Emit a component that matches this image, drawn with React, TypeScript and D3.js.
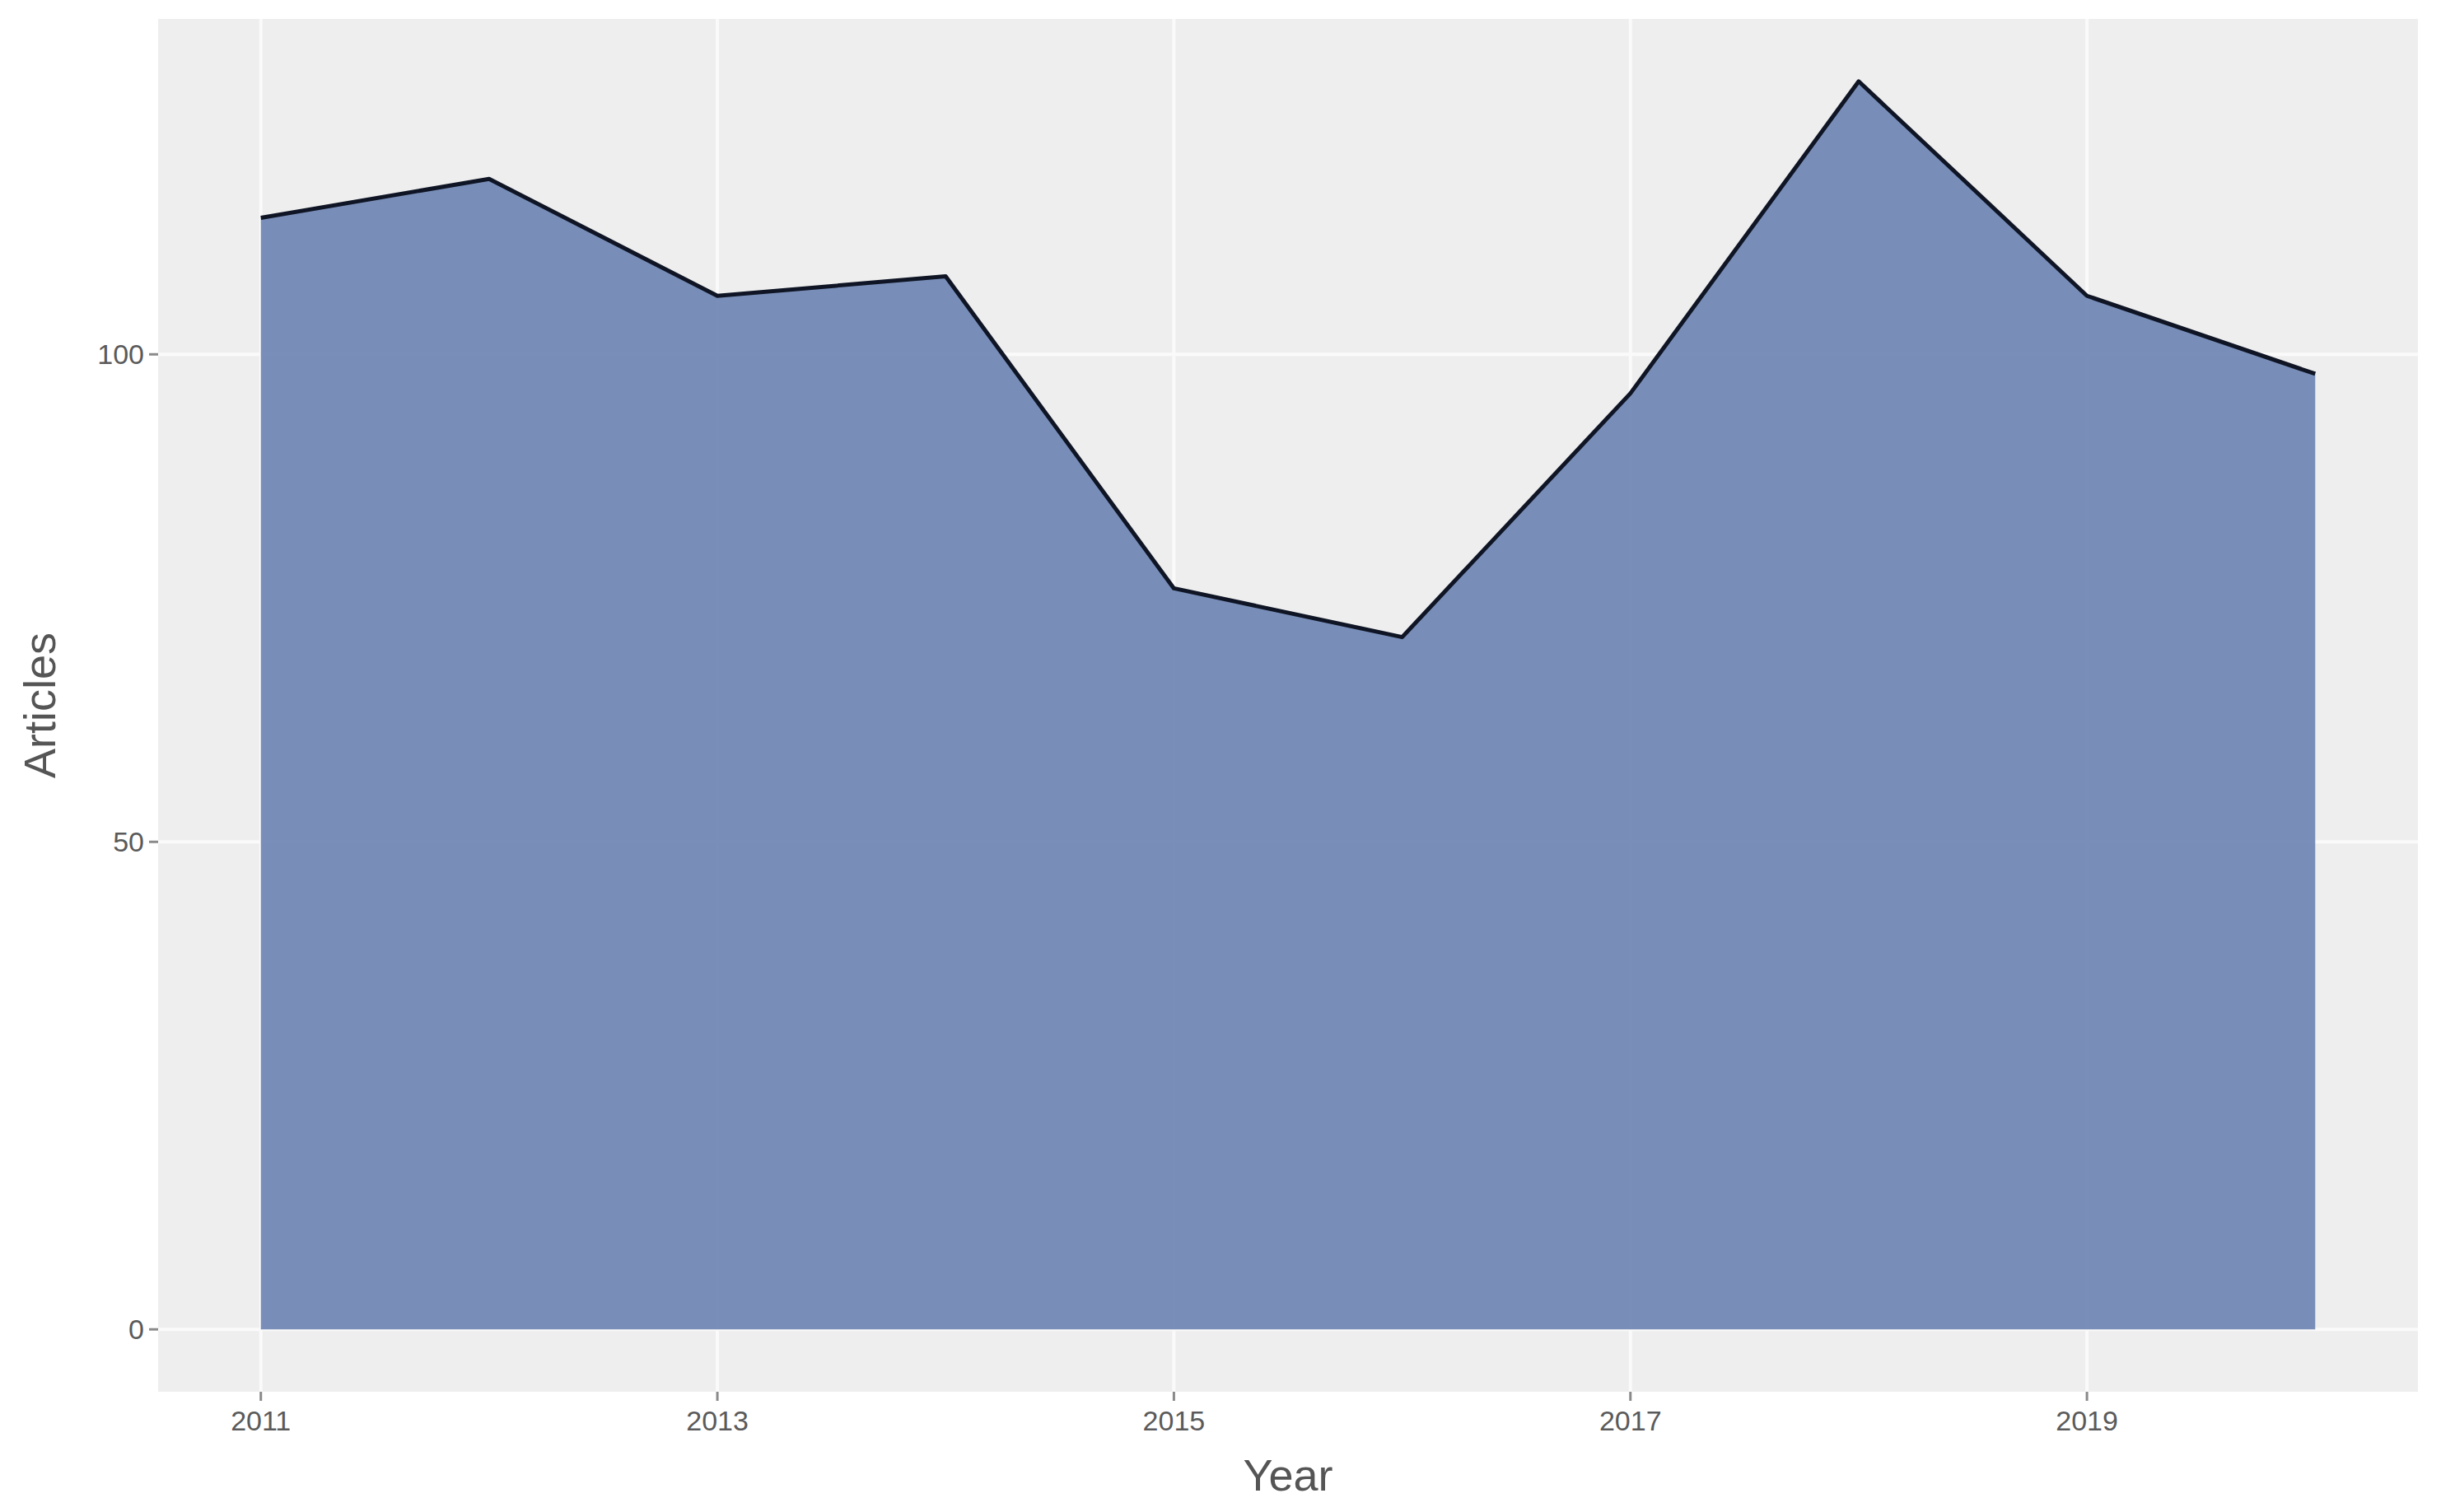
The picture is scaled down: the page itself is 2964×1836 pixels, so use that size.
import React from "react";
import * as d3 from "d3";

const years: number[] = [2011, 2012, 2013, 2014, 2015, 2016, 2017, 2018, 2019, 2020];
const articles: number[] = [114, 118, 106, 108, 76, 71, 96, 128, 106, 98];
const xTicks: number[] = [2011, 2013, 2015, 2017, 2019];
const yTicks: number[] = [0, 50, 100];
const xTitle = "Year";
const yTitle = "Articles";

const W = 2964;
const H = 1836;
const panel = { left: 192, right: 2936, top: 23, bottom: 1690 };

export default function App() {
  const data = years.map((y, i) => ({ year: y, value: articles[i] }));
  const x = d3.scaleLinear().domain([2011 - 0.45, 2020 + 0.45]).range([panel.left, panel.right]);
  const y = d3.scaleLinear().domain([-6.4, 134.4]).range([panel.bottom, panel.top]);

  const area = d3
    .area<{ year: number; value: number }>()
    .x((d) => x(d.year))
    .y0(() => y(0))
    .y1((d) => y(d.value));
  const line = d3
    .line<{ year: number; value: number }>()
    .x((d) => x(d.year))
    .y((d) => y(d.value));

  const tickFont = "Liberation Sans, Arial, sans-serif";

  return (
    <svg
      width={W}
      height={H}
      style={{ position: "absolute", left: 0, top: 0, background: "#ffffff" }}
    >
      <rect x={0} y={0} width={W} height={H} fill="#ffffff" />
      <rect
        x={panel.left}
        y={panel.top}
        width={panel.right - panel.left}
        height={panel.bottom - panel.top}
        fill="#eeeeee"
      />
      {yTicks.map((t) => (
        <line key={"gy" + t} x1={panel.left} x2={panel.right} y1={y(t)} y2={y(t)} stroke="#fafafa" strokeWidth={4} />
      ))}
      {xTicks.map((t) => (
        <line key={"gx" + t} x1={x(t)} x2={x(t)} y1={panel.top} y2={panel.bottom} stroke="#fafafa" strokeWidth={4} />
      ))}
      <path d={area(data) || ""} fill="#6a83b1" fillOpacity={0.9} />
      <path d={line(data) || ""} fill="none" stroke="#0f1525" strokeWidth={5} strokeLinejoin="round" />

      {yTicks.map((t) => (
        <g key={"ty" + t}>
          <line x1={panel.left - 11} x2={panel.left} y1={y(t)} y2={y(t)} stroke="#8a8a8a" strokeWidth={3} />
          <text
            x={panel.left - 17}
            y={y(t)}
            textAnchor="end"
            dominantBaseline="central"
            fontFamily={tickFont}
            fontSize={34}
            fill="#5a5a5a"
          >
            {t}
          </text>
        </g>
      ))}
      {xTicks.map((t) => (
        <g key={"tx" + t}>
          <line x1={x(t)} x2={x(t)} y1={panel.bottom} y2={panel.bottom + 11} stroke="#8a8a8a" strokeWidth={3} />
          <text
            x={x(t)}
            y={panel.bottom + 47}
            textAnchor="middle"
            fontFamily={tickFont}
            fontSize={34}
            fill="#5a5a5a"
          >
            {t}
          </text>
        </g>
      ))}
      <text
        x={(panel.left + panel.right) / 2}
        y={1810}
        textAnchor="middle"
        fontFamily={tickFont}
        fontSize={54}
        fill="#555555"
      >
        {xTitle}
      </text>
      <text
        transform={`translate(67, ${(panel.top + panel.bottom) / 2}) rotate(-90)`}
        textAnchor="middle"
        fontFamily={tickFont}
        fontSize={54}
        fill="#555555"
      >
        {yTitle}
      </text>
    </svg>
  );
}
